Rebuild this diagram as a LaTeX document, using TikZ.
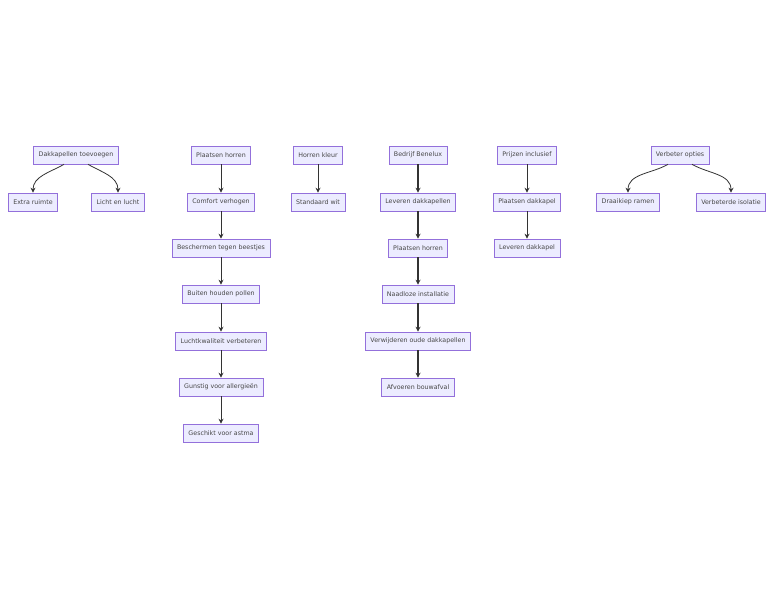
\documentclass[tikz,border=0pt]{standalone}
\usepackage{fontspec}
\setmainfont{DejaVu Sans}
\usetikzlibrary{arrows.meta}
\definecolor{nf}{HTML}{ECECFF}
\definecolor{nd}{HTML}{9370DB}
\definecolor{ln}{HTML}{333333}
\begin{document}
\begin{tikzpicture}[x=1pt,y=-1pt,
  box/.style={draw=nd,fill=nf,line width=0.6pt,minimum height=18pt,inner xsep=5pt,font=\fontsize{6.3}{8}\selectfont,text=ln!90},
  arr/.style={draw=ln,line width=0.8pt,-{Stealth[length=5pt,width=5pt]}},
  darr/.style={arr,line width=1.1pt}]
\useasboundingbox (0,0) rectangle (784,589);
\node[box] (a) at (76,155) {Dakkapellen toevoegen};
\node[box] (a1) at (33,202) {Extra ruimte};
\node[box] (a2) at (118,202) {Licht en lucht};
\node[box] (b) at (221,155) {Plaatsen horren};
\node[box] (b1) at (221,202) {Comfort verhogen};
\node[box] (b2) at (221,248) {Beschermen tegen beestjes};
\node[box] (b3) at (221,294) {Buiten houden pollen};
\node[box] (b4) at (221,341) {Luchtkwaliteit verbeteren};
\node[box] (b5) at (221,387) {Gunstig voor allergieën};
\node[box] (b6) at (221,433) {Geschikt voor astma};
\node[box] (c) at (318,155) {Horren kleur};
\node[box] (c1) at (318,202) {Standaard wit};
\node[box] (d) at (418,155) {Bedrijf Benelux};
\node[box] (d1) at (418,202) {Leveren dakkapellen};
\node[box] (d2) at (418,248) {Plaatsen horren};
\node[box] (d3) at (418,294) {Naadloze installatie};
\node[box] (d4) at (418,341) {Verwijderen oude dakkapellen};
\node[box] (d5) at (418,387) {Afvoeren bouwafval};
\node[box] (e) at (527,155) {Prijzen inclusief};
\node[box] (e1) at (527,202) {Plaatsen dakkapel};
\node[box] (e2) at (527,248) {Leveren dakkapel};
\node[box] (f) at (680,155) {Verbeter opties};
\node[box] (f1) at (628,202) {Draaikiep ramen};
\node[box] (f2) at (731,202) {Verbeterde isolatie};
\draw[arr] (a.south) ++(-12,0) to[out=-150,in=90] (a1.north);
\draw[arr] (a.south) ++(12,0) to[out=-30,in=90] (a2.north);
\draw[arr] (f.south) ++(-12,0) to[out=-150,in=90] (f1.north);
\draw[arr] (f.south) ++(12,0) to[out=-30,in=90] (f2.north);
\foreach \u/\v in {b/b1,b1/b2,b2/b3,b3/b4,b4/b5,b5/b6,c/c1,e/e1,e1/e2}
  \draw[arr] (\u) -- (\v);
\foreach \u/\v in {d/d1,d1/d2,d2/d3,d3/d4,d4/d5}
  \draw[darr] (\u) -- (\v);
\end{tikzpicture}
\end{document}
